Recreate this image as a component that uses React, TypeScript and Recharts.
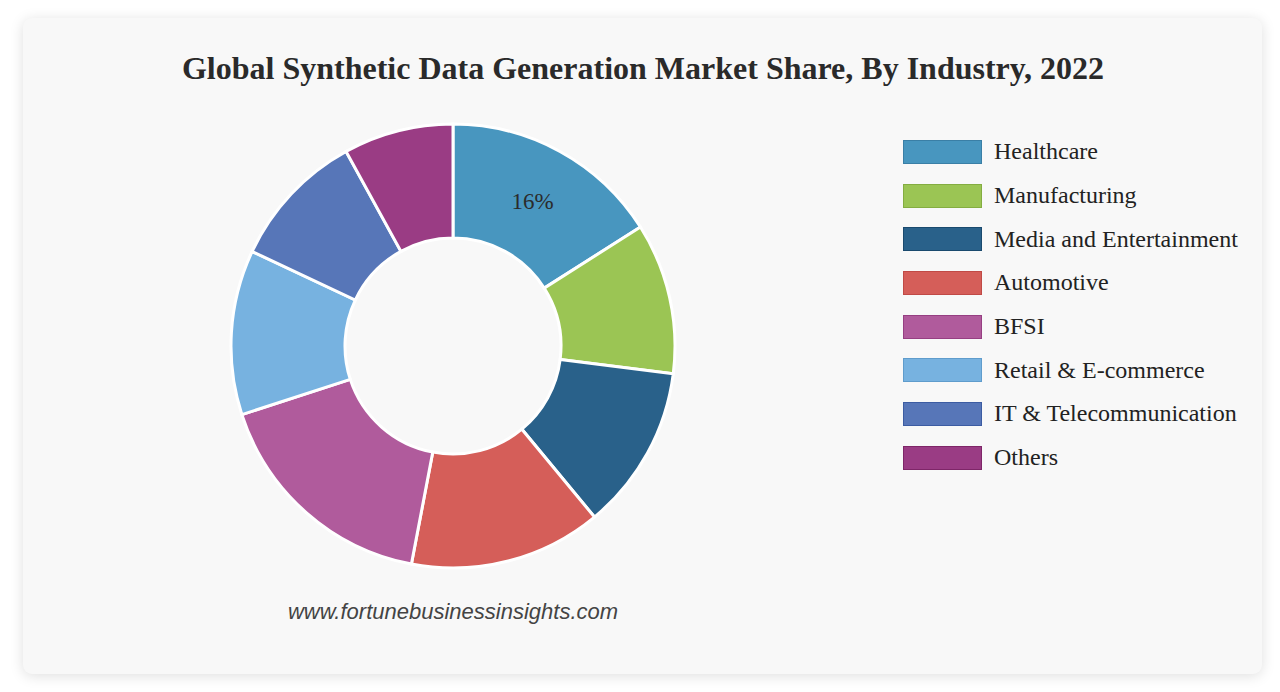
import { PieChart, Pie, Cell, Legend } from 'recharts';

const industries = [
  'Healthcare',
  'Manufacturing',
  'Media and Entertainment',
  'Automotive',
  'BFSI',
  'Retail & E-commerce',
  'IT & Telecommunication',
  'Others',
];
const shares = [16, 11, 12, 14, 17, 12, 10, 8];
const colors = ['#4896bf', '#9bc554', '#29618a', '#d55e59', '#b05b9c', '#77b2e0', '#5776b8', '#9a3c84'];
const borders = ['#3a7fa6', '#84ad41', '#1a4a6e', '#c04a46', '#963f82', '#5f9ccc', '#3c5ca2', '#7e2668'];
const labelShown = ['16%'];

const data = industries.map((name, i) => ({ name, value: shares[i] }));

const RADIAN = Math.PI / 180;

function renderLabel(props: any) {
  const { cx, cy, midAngle, innerRadius, outerRadius, index } = props;
  if (!labelShown[index]) return null;
  const r = (innerRadius + outerRadius) / 2;
  const x = cx + r * Math.cos(-midAngle * RADIAN);
  const y = cy + r * Math.sin(-midAngle * RADIAN);
  return (
    <text
      x={x}
      y={y}
      textAnchor="middle"
      dominantBaseline="central"
      fill="#2b2b2b"
      fontSize={23}
      fontFamily="'Liberation Serif', serif"
    >
      {labelShown[index]}
    </text>
  );
}

function LegendList() {
  return (
    <div>
      {industries.map((name, i) => (
        <div key={name} style={{ display: 'flex', alignItems: 'center', height: 43.7 }}>
          <div
            style={{
              width: 79,
              height: 24,
              boxSizing: 'border-box',
              background: colors[i],
              border: `1px solid ${borders[i]}`,
              marginRight: 12,
              flexShrink: 0,
            }}
          />
          <span style={{ fontFamily: "'Liberation Serif', serif", fontSize: 24, color: '#222', whiteSpace: 'nowrap' }}>
            {name}
          </span>
        </div>
      ))}
    </div>
  );
}

export default function App() {
  return (
    <div style={{ position: 'absolute', left: 0, top: 0, width: 1280, height: 692, background: '#ffffff', overflow: 'hidden' }}>
      <div
        style={{
          position: 'absolute',
          left: 23,
          top: 18,
          width: 1239,
          height: 656,
          background: '#f8f8f8',
          borderRadius: 9,
          boxShadow: '0 2px 14px rgba(0,0,0,0.13)',
        }}
      />
      <div
        style={{
          position: 'absolute',
          left: 0,
          top: 49,
          width: 1286,
          textAlign: 'center',
          fontFamily: "'Liberation Serif', serif",
          fontWeight: 'bold',
          fontSize: 32,
          lineHeight: '38px',
          color: '#2a2a2a',
          whiteSpace: 'nowrap',
        }}
      >
        Global Synthetic Data Generation Market Share, By Industry, 2022
      </div>
      <div style={{ position: 'absolute', left: 0, top: 0 }}>
        <PieChart width={1280} height={692} margin={{ top: 0, right: 0, bottom: 0, left: 0 }}>
          <Pie
            data={data}
            dataKey="value"
            nameKey="name"
            cx={453}
            cy={346}
            innerRadius={108}
            outerRadius={222}
            startAngle={90}
            endAngle={-270}
            stroke="#ffffff"
            strokeWidth={3}
            label={renderLabel}
            labelLine={false}
            isAnimationActive={false}
          >
            {data.map((d, i) => (
              <Cell key={d.name} fill={colors[i]} />
            ))}
          </Pie>
          <Legend
            layout="vertical"
            content={() => <LegendList />}
            wrapperStyle={{ position: 'absolute', left: 903, top: 130, width: 370 }}
          />
        </PieChart>
      </div>
      <div
        style={{
          position: 'absolute',
          left: 203,
          top: 598,
          width: 500,
          textAlign: 'center',
          fontFamily: "'Liberation Sans', Arial, sans-serif",
          fontStyle: 'italic',
          fontSize: 22,
          lineHeight: '28px',
          color: '#444',
        }}
      >
        www.fortunebusinessinsights.com
      </div>
    </div>
  );
}
